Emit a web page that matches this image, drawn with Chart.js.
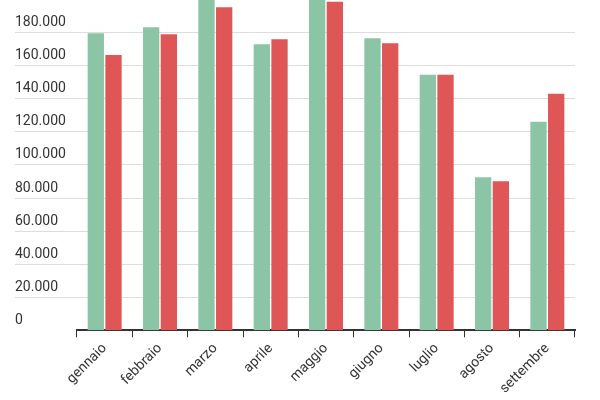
<!DOCTYPE html><html><head><meta charset="utf-8">
<script src="https://cdn.jsdelivr.net/npm/chart.js@4"></script>
<style>body{margin:0;background:#fff}#w{width:600px;height:400px}</style></head><body>
<div id="w"><canvas id="c"></canvas></div>
<script>
const categories=["gennaio","febbraio","marzo","aprile","maggio","giugno","luglio","agosto","settembre"];
const seriesA=[179000,182600,205000,172400,205000,176000,153900,92200,125700];
const seriesB=[165900,178400,194600,175400,198000,173000,153900,89800,142500];
const yTicks=[0,20000,40000,60000,80000,100000,120000,140000,160000,180000];
const gridPlugin={id:'g',beforeDatasetsDraw(ch){const c=ch.ctx,y=ch.scales.y,a=ch.chartArea;c.save();c.font='14px Roboto';c.fillStyle='#333';c.textAlign='left';c.textBaseline='bottom';
yTicks.forEach(v=>{const p=Math.round(y.getPixelForValue(v))+0.5;if(v>0){c.strokeStyle='#dddddd';c.lineWidth=1;c.beginPath();c.moveTo(15,p);c.lineTo(a.right,p);c.stroke();}c.fillText(v===0?'0':v.toLocaleString('en-US').replace(/,/g,'.'),15,p-3);});c.restore();}};
new Chart(document.getElementById('c'),{type:'bar',data:{labels:categories,datasets:[
{data:seriesA,backgroundColor:'#8cc4a6',categoryPercentage:0.64,barPercentage:0.92},
{data:seriesB,backgroundColor:'#df5656',categoryPercentage:0.64,barPercentage:0.92}]},
options:{responsive:true,maintainAspectRatio:false,animation:false,layout:{padding:{left:77,right:25,top:0}},
plugins:{legend:{display:false},tooltip:{enabled:false}},
scales:{y:{display:false,min:0,max:199000},
x:{border:{color:'#333',width:2},grid:{drawOnChartArea:false,offset:true,tickLength:7,color:'#333'},
ticks:{maxRotation:45,minRotation:45,color:'#333',font:{family:'Roboto',size:14}}}}},plugins:[gridPlugin]});
</script></body></html>
